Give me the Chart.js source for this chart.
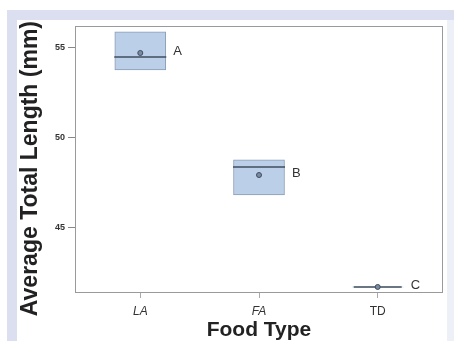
<!DOCTYPE html>
<html>
<head>
<meta charset="utf-8">
<script src="https://cdn.jsdelivr.net/npm/chart.js@4/dist/chart.umd.min.js"></script>
<style>
  html, body { margin: 0; padding: 0; background: #ffffff; }
  #wrap { position: absolute; left: 0; top: 0; width: 454px; height: 341px; }
</style>
</head>
<body>
<div id="wrap"><canvas id="c" width="454" height="341"></canvas></div>
<script>
// ---- data ----
const categories = ['LA', 'FA', 'TD'];
const q1Values = [53.78, 46.83, 41.72];
const q3Values = [55.89, 48.78, 41.72];
const medianValues = [54.50, 48.39, 41.72];
const meanValues = [54.72, 47.94, 41.72];
const groupLetters = ['A', 'B', 'C'];
const yTickValues = [45, 50, 55];
const yTitle = 'Average Total Length (mm)';
const xTitle = 'Food Type';

const FONT = "'Liberation Sans', Arial, sans-serif";

const boxData = categories.map((c, i) => ({ x: i, y: [q1Values[i], q3Values[i]] }));
const medianData = categories.map((c, i) => ({ x: i, y: medianValues[i] }));
const meanData = categories.map((c, i) => ({ x: i, y: meanValues[i] }));

const decorPlugin = {
  id: 'decor',
  beforeDraw(chart) {
    const ctx = chart.ctx;
    ctx.save();
    ctx.fillStyle = '#ffffff';
    ctx.fillRect(0, 0, chart.width, chart.height);
    ctx.fillStyle = '#dcdff0';
    ctx.fillRect(7, 10, chart.width - 7, 10);
    ctx.fillRect(7, 10, 10, chart.height - 10);
    ctx.fillStyle = '#eef0f8';
    ctx.fillRect(447, 20, 7, chart.height - 20);
    ctx.restore();
  },
  afterDatasetsDraw(chart) {
    const ctx = chart.ctx;
    const a = chart.chartArea;
    const xs = chart.scales.x, ys = chart.scales.y;
    ctx.save();
    ctx.strokeStyle = '#9a9a9a';
    ctx.lineWidth = 1;
    ctx.strokeRect(Math.round(a.left) + 0.5, Math.round(a.top) + 0.5,
                   Math.round(a.right - a.left) - 1, Math.round(a.bottom - a.top));
    ctx.fillStyle = '#333333';
    ctx.font = '13px ' + FONT;
    ctx.textAlign = 'left';
    ctx.textBaseline = 'middle';
    groupLetters.forEach((t, i) => {
      const px = xs.getPixelForValue(i) + 33;
      const py = ys.getPixelForValue(meanValues[i]) - 2;
      ctx.fillText(t, px, py);
    });
    ctx.restore();
  }
};

new Chart(document.getElementById('c'), {
  type: 'bar',
  data: {
    datasets: [
      {
        type: 'bar',
        data: boxData,
        backgroundColor: '#bccfe8',
        borderColor: '#8a9db6',
        borderWidth: [1, 1, 0],
        borderSkipped: false,
        barThickness: 51,
        order: 3
      },
      {
        type: 'scatter',
        data: medianData,
        pointStyle: 'line',
        pointRadius: [26, 26, 24],
        borderColor: '#3f4d5e',
        borderWidth: 1.5,
        order: 2
      },
      {
        type: 'scatter',
        data: meanData,
        pointStyle: 'circle',
        pointRadius: 2.5,
        backgroundColor: '#7a8aa2',
        borderColor: '#3f4d5e',
        borderWidth: 1,
        order: 1
      }
    ]
  },
  options: {
    responsive: false,
    animation: false,
    events: [],
    layout: { autoPadding: false, padding: { left: 0, top: 26, right: 11, bottom: 0 } },
    plugins: { legend: { display: false }, tooltip: { enabled: false } },
    scales: {
      x: {
        type: 'linear',
        min: -0.55,
        max: 2.55,
        offset: false,
        afterBuildTicks: (s) => { s.ticks = categories.map((c, i) => ({ value: i })); },
        afterFit: (s) => { s.height = 49; s.paddingLeft = 0; s.paddingRight = 0; },
        border: { display: false },
        grid: { offset: false, drawOnChartArea: false, drawTicks: true, tickLength: 6, color: '#aaaaaa' },
        ticks: {
          padding: 6,
          autoSkip: false,
          maxRotation: 0,
          color: '#333333',
          font: (ctx) => ({ family: FONT, size: 12, style: ctx.index < 2 ? 'italic' : 'normal' }),
          callback: (v) => categories[v]
        },
        title: {
          display: true,
          text: xTitle,
          color: '#222222',
          font: { family: FONT, size: 21, weight: 'bold', lineHeight: 1 },
          padding: { top: 0, bottom: 0 }
        }
      },
      y: {
        type: 'linear',
        min: 41.44,
        max: 56.22,
        afterBuildTicks: (s) => { s.ticks = yTickValues.map(v => ({ value: v })); },
        afterFit: (s) => { s.width = 75; s.paddingTop = 0; s.paddingBottom = 0; },
        border: { display: false },
        grid: { drawOnChartArea: false, drawTicks: true, tickLength: 7, color: '#888888' },
        ticks: {
          padding: 3,
          color: '#333333',
          font: { family: FONT, size: 9, weight: 'bold' }
        },
        title: {
          display: true,
          text: yTitle + '   ',
          color: '#222222',
          font: { family: FONT, size: 23, weight: 'bold', lineHeight: 1 },
          padding: { top: 19.5, bottom: 0 }
        }
      }
    }
  },
  plugins: [decorPlugin]
});
</script>
</body>
</html>
